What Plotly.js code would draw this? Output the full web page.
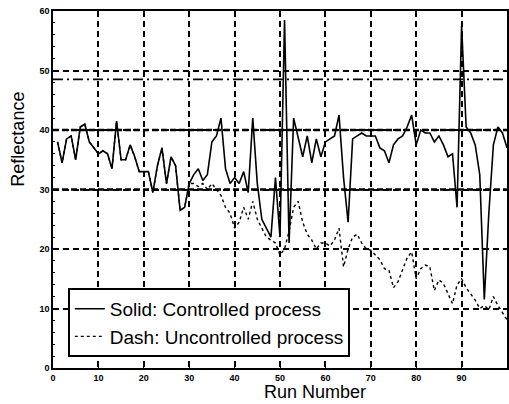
<!DOCTYPE html>
<html>
<head>
<meta charset="utf-8">
<script src="https://cdn.plot.ly/plotly-3.0.1.min.js"></script>
<style>
  html, body { margin: 0; padding: 0; background: #fff; }
  #chart { width: 509px; height: 404px; }
</style>
</head>
<body>
<div id="chart"></div>
<script>
// Run numbers 1..100
const runs = [1,2,3,4,5,6,7,8,9,10,11,12,13,14,15,16,17,18,19,20,
  21,22,23,24,25,26,27,28,29,30,31,32,33,34,35,36,37,38,39,40,
  41,42,43,44,45,46,47,48,49,50,51,52,53,54,55,56,57,58,59,60,
  61,62,63,64,65,66,67,68,69,70,71,72,73,74,75,76,77,78,79,80,
  81,82,83,84,85,86,87,88,89,90,91,92,93,94,95,96,97,98,99,100];

// Solid: Controlled process (runs 1..100)
const controlled = [
  38,34.5,38.5,39,35,40.5,41,38,37,36,          // 1-10
  36.5,36,33.5,41.5,35,35,37.5,35.5,33,33,      // 11-20
  33,29.5,34,37,31,35.5,34,26.5,27,31,          // 21-30
  32.5,33.5,31.5,32.5,38,39,42,33.5,31,32,      // 31-40
  31,33,29.5,42,31,25,23.5,22,32,22,            // 41-50
  58.5,21,42,38.5,35.5,39,34.5,38.5,35.5,38,    // 51-60
  38.5,39,42.5,32,24.5,38.5,39,39.5,39,39,      // 61-70
  39,37,36.5,34.5,37.5,38.5,39,40.5,42.5,37.5,  // 71-80
  40,39.5,39.5,38,39,37.5,35.5,36,27,57.5,      // 81-90
  40.5,39.5,37.5,32.5,11.5,26,37.5,40.5,39.5,37 // 91-100
];

// Dash: Uncontrolled process (runs 1..100)
const uncontrolled = [
  38,34.5,38.5,39,35,40.5,41,38,37,36,          // 1-10
  36.5,36,33.5,41.5,35,35,37.5,35.5,33,33,      // 11-20
  33,29.5,34,37,31,35.5,34,26.5,27,31,          // 21-30
  31,30.5,31,30,31,30,29,27,26,23.5,            // 31-40
  24.5,27,25,28,25,23.5,22,21.5,21,19,          // 41-50
  20,23,27,28,24.5,22.5,21.5,20,21,21,          // 51-60
  20.5,21.5,23.5,17,20,22,22.5,21,20,19.8,      // 61-70
  19,18.2,16.7,16.4,13.5,14.5,16.5,18.5,19.5,15,// 71-80
  16.7,17.3,17,13,14.8,14.2,12.5,10.8,14,15,    // 81-90
  13.5,12.5,11.4,10,10.5,9.8,12,10.5,9.3,8.1    // 91-100
];

const xTicks = [0,10,20,30,40,50,60,70,80,90,100];
const yTicks = [0,10,20,30,40,50,60];
const limitLines = [48.5];      // dash-dot limit line
const heavyLines = [40, 30];    // emphasised reference lines

const traces = [
  { x: runs, y: controlled, type: 'scatter', mode: 'lines',
    name: 'Solid: Controlled process',
    line: { color: '#000', width: 1.6 } },
  { x: runs, y: uncontrolled, type: 'scatter', mode: 'lines',
    name: 'Dash: Uncontrolled process',
    line: { color: '#000', width: 1.4, dash: '3px,3px' } }
];

const shapes = [];
limitLines.forEach(v => shapes.push({
  type: 'line', xref: 'paper', x0: 0, x1: 1, yref: 'y', y0: v, y1: v,
  line: { color: '#000', width: 1.8, dash: '10px,4px,2px,4px' }, layer: 'below'
}));
heavyLines.forEach(v => shapes.push({
  type: 'line', xref: 'paper', x0: 0, x1: 1, yref: 'y', y0: v, y1: v,
  line: { color: '#000', width: 2.6, dash: '6px,3px' }, layer: 'below'
}));

const tickFont = { family: 'Liberation Sans, Arial, sans-serif', size: 9, color: '#000', weight: 'bold' };
const labelFont = { family: 'Liberation Sans, Arial, sans-serif', size: 18, color: '#000' };

const layout = {
  width: 509, height: 404,
  margin: { l: 53, r: 2, t: 11, b: 36 },
  paper_bgcolor: '#fff', plot_bgcolor: '#fff',
  showlegend: true,
  legend: {
    x: 0.033, y: 0.224, xanchor: 'left', yanchor: 'top',
    bgcolor: '#fff', bordercolor: '#000', borderwidth: 1.8,
    font: { family: 'Liberation Sans, Arial, sans-serif', size: 19, color: '#000' },
    tracegroupgap: 0
  },
  xaxis: {
    range: [0, 100], tickvals: xTicks, ticktext: xTicks.map(String),
    showline: true, mirror: true, linecolor: '#000', linewidth: 1.8,
    ticks: 'inside', ticklen: 4, tickcolor: '#000',
    showgrid: true, gridcolor: '#000', gridwidth: 2, griddash: '6px,4px',
    zeroline: false, tickfont: tickFont
  },
  yaxis: {
    range: [0, 60], tickvals: yTicks, ticktext: yTicks.map(String),
    showline: true, mirror: true, linecolor: '#000', linewidth: 1.8,
    ticks: 'inside', ticklen: 4, tickcolor: '#000',
    minor: { ticks: 'inside', ticklen: 2, dtick: 2, tickcolor: '#000', showgrid: false },
    showgrid: true, gridcolor: '#000', gridwidth: 2, griddash: '6px,4px',
    zeroline: false, tickfont: tickFont
  },
  shapes: shapes,
  annotations: [
    { text: 'Reflectance', xref: 'paper', yref: 'paper', x: -0.079, y: 0.64,
      textangle: -90, showarrow: false, font: labelFont, xanchor: 'center', yanchor: 'middle' },
    { text: 'Run Number', xref: 'paper', yref: 'paper', x: 0.577, y: -0.067,
      showarrow: false, font: labelFont, xanchor: 'center', yanchor: 'middle' }
  ]
};

Plotly.newPlot('chart', traces, layout, { staticPlot: true, displayModeBar: false });
</script>
</body>
</html>
